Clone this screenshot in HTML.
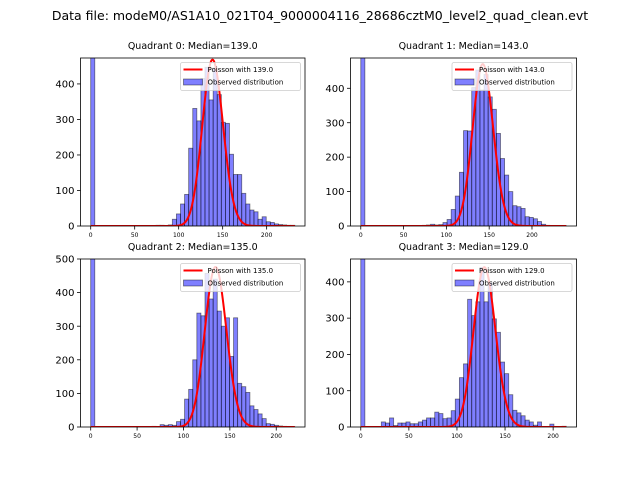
<!DOCTYPE html>
<html><head><meta charset="utf-8"><style>
body{margin:0;background:#fff;}
svg{display:block;font-family:"DejaVu Sans","Liberation Sans",sans-serif;}
</style></head><body>
<svg id="fig" width="640" height="480" viewBox="0 0 640 480">
<rect width="640" height="480" fill="#fff"/>
<text x="320" y="20" text-anchor="middle" font-size="12.5" fill="#000">Data file: modeM0/AS1A10_021T04_9000004116_28686cztM0_level2_quad_clean.evt</text>
</svg>
<script>
// ---- data ----
const q0Counts=[2000,0,0,0,0,0,0,0,0,0,0,0,0,0,0,1,2,2,1,3,19,34,62,89,219,331,296,415,447,355,445,370,292,289,202,145,145,92,62,45,40,19,26,12,10,6,4,3,2,2];
const q1Counts=[2000,0,0,0,0,0,0,0,0,0,0,0,0,0,0,2,3,5,3,4,10,19,48,87,156,277,276,402,453,395,440,375,339,269,196,148,100,59,56,51,27,25,21,13,5,2,1,1,1,1];
const q2Counts=[2000,0,0,0,0,0,0,0,0,0,0,0,0,0,0,2,0,7,5,7,5,16,23,83,112,200,339,331,457,381,440,345,300,325,210,325,130,120,103,63,52,39,25,10,8,5,3,2,1,1];
const q3Counts=[2000,0,0,0,0,14,11,25,4,11,11,14,9,9,14,19,25,25,41,37,23,25,45,77,136,174,352,307,345,440,345,398,298,261,179,147,89,46,39,31,19,14,5,14,0,0,8,0,0,2];
const medians=[139.0,143.0,135.0,129.0];
const curvePeaks=[468,470,476,440];
const dataMax=[232,240,220,213.6];
const yLimits=[473,488,500,463];
const yTickVals=[[0,100,200,300,400],[0,100,200,300,400],[0,100,200,300,400,500],[0,100,200,300,400]];
const xTickVals=[0,50,100,150,200];
const allCounts=[q0Counts,q1Counts,q2Counts,q3Counts];
// ---- layout ----
const boxes=[{l:80.5,r:305,t:58,b:226},{l:350.5,r:576.5,t:58,b:226},{l:80.5,r:305,t:259,b:427},{l:350.5,r:576.5,t:259,b:427}];
const NS="http://www.w3.org/2000/svg";
const svg=document.getElementById('fig');
function mk(tag,attrs,parent){const e=document.createElementNS(NS,tag);for(const k in attrs)e.setAttribute(k,attrs[k]);(parent||svg).appendChild(e);return e;}
function lgamma(z){ // Stirling series
  let s=0; while(z<7){s-=Math.log(z);z+=1;}
  return s+(z-0.5)*Math.log(z)-z+0.5*Math.log(2*Math.PI)+1/(12*z)-1/(360*z*z*z);
}
boxes.forEach((bx,p)=>{
  const counts=allCounts[p], R=dataMax[p], nb=counts.length, bw=R/nb;
  const x0=-0.05*R, x1=1.05*R;
  const X=v=>bx.l+(v-x0)/(x1-x0)*(bx.r-bx.l);
  const Y=v=>bx.b-v/yLimits[p]*(bx.b-bx.t);
  const g=mk('g',{});
  
  
  const cp=mk('clipPath',{id:'clip'+p},g);
  mk('rect',{x:bx.l,y:bx.t,width:bx.r-bx.l,height:bx.b-bx.t},cp);
  const title=mk('text',{x:(bx.l+bx.r)/2,y:bx.t-9,'text-anchor':'middle','font-size':'9.5'},g);
  title.textContent='Quadrant '+p+': Median='+medians[p].toFixed(1);
  
  
  const bars=mk('g',{'clip-path':'url(#clip'+p+')'},g);
  counts.forEach((c,i)=>{
    if(c<=0)return;
    const r=mk('rect',{x:X(i*bw),y:Y(c),width:X((i+1)*bw)-X(i*bw),height:Y(0)-Y(c),fill:'rgba(0,0,255,0.5)',stroke:'rgba(0,0,0,0.5)','stroke-width':'0.8'},bars);
    
    
  });
  // poisson curve
  const lam=medians[p];
  const lp=k=>k*Math.log(lam)-lam-lgamma(k+1);
  const maxl=lp(Math.floor(lam));
  let d='';
  for(let s=0;s<=400;s++){const k=s/400*R;const v=curvePeaks[p]*Math.exp(lp(k)-maxl);d+=(s?'L':'M')+X(k).toFixed(2)+','+Y(v).toFixed(2);}
  const line=mk('path',{d:d,fill:'none',stroke:'#ff0000','stroke-width':'2','clip-path':'url(#clip'+p+')'},g);
  
  
  // axes frame
  const fr=mk('rect',{x:bx.l,y:bx.t,width:bx.r-bx.l,height:bx.b-bx.t,fill:'none',stroke:'#000','stroke-width':'0.8'},g);
  
  
  yTickVals[p].forEach(v=>{
    const y=Y(v);
    mk('line',{x1:bx.l-3.5,x2:bx.l,y1:y,y2:y,stroke:'#000','stroke-width':'0.8'},g);
    const t=mk('text',{x:bx.l-6,y:y+3.6,'text-anchor':'end','font-size':'10'},g);
    t.textContent=v;
    
    
  });
  xTickVals.forEach(v=>{
    const x=X(v);
    mk('line',{x1:x,x2:x,y1:bx.b,y2:bx.b+3.5,stroke:'#000','stroke-width':'0.8'},g);
    const t=mk('text',{x:x,y:bx.b+11,'text-anchor':'middle','font-size':'6'},g);
    t.textContent=v;
    
    
  });
  // legend
  const lg=mk('g',{},g);
  
  
  const lx=bx.r-124.5, ly=bx.t+4.5;
  mk('rect',{x:lx,y:ly,width:120,height:28,rx:2,fill:'rgba(255,255,255,0.8)',stroke:'#ccc','stroke-width':'0.8'},lg);
  mk('line',{x1:lx+3,x2:lx+22,y1:ly+7,y2:ly+7,stroke:'#ff0000','stroke-width':'2'},lg);
  const t1=mk('text',{x:lx+27,y:ly+9.5,'font-size':'7'},lg);
  t1.textContent='Poisson with '+medians[p].toFixed(1);
  
  
  mk('rect',{x:lx+3,y:ly+16.5,width:19,height:6,fill:'rgba(0,0,255,0.5)',stroke:'rgba(0,0,0,0.5)','stroke-width':'0.8'},lg);
  const t2=mk('text',{x:lx+27,y:ly+22,'font-size':'7'},lg);
  t2.textContent='Observed distribution';
  
  
});
</script>
</body></html>
